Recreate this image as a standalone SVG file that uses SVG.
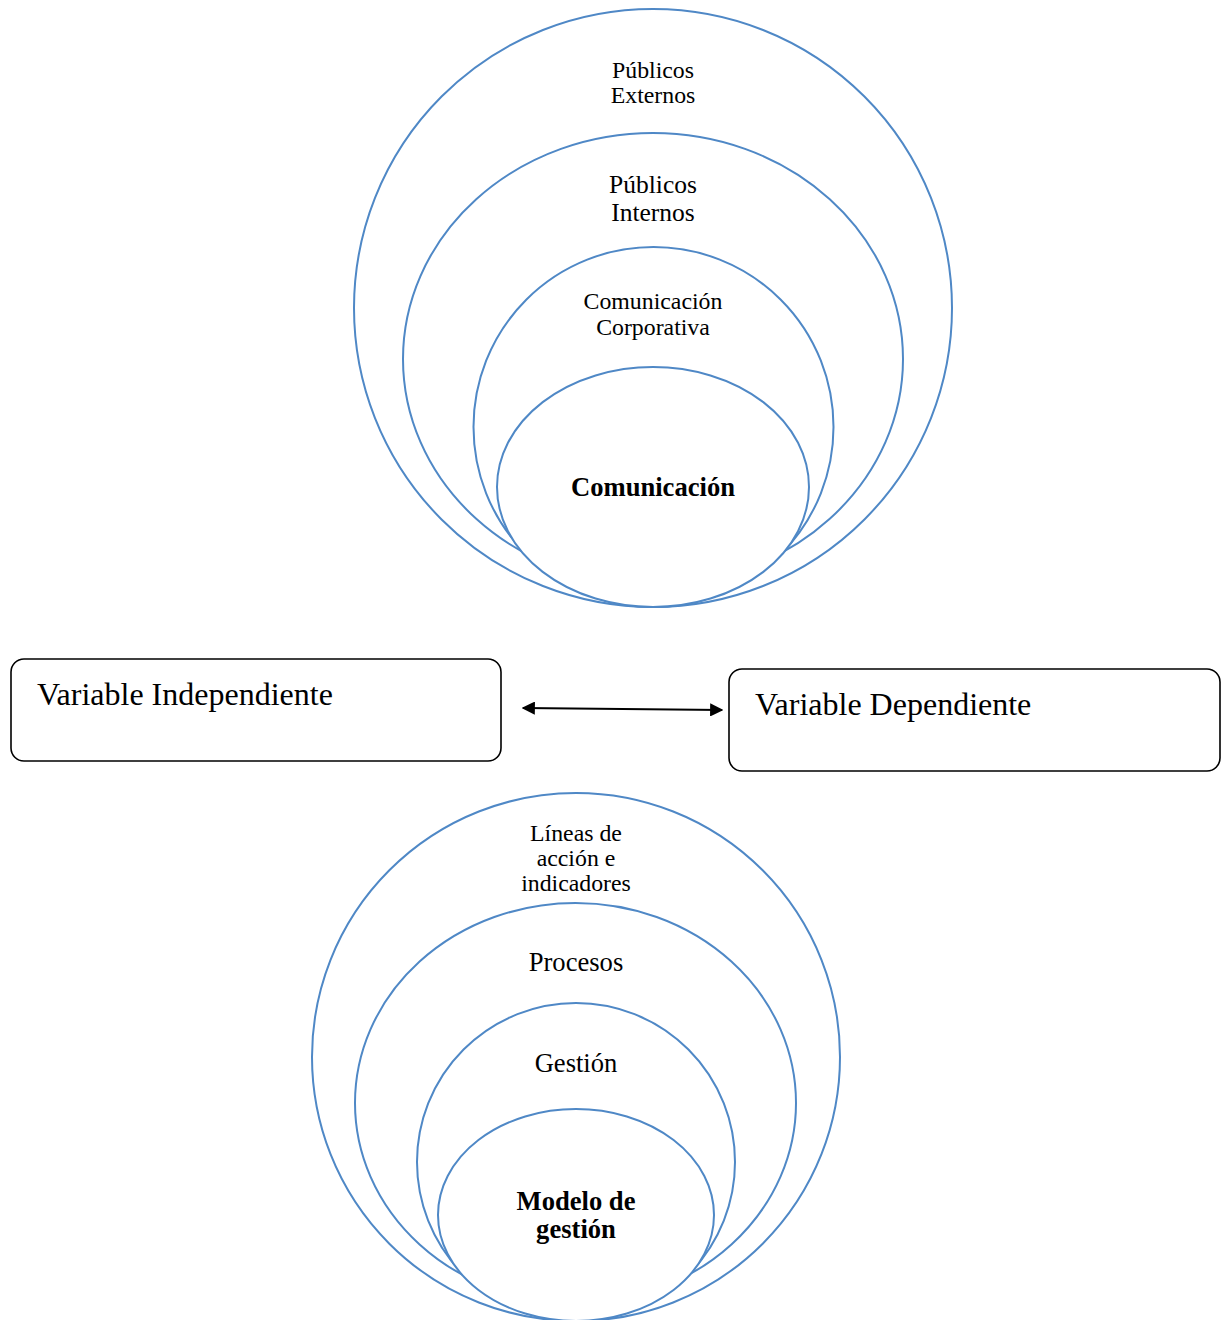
<svg xmlns="http://www.w3.org/2000/svg" width="1221" height="1320" viewBox="0 0 1221 1320">
<defs>
<style>
.ring{fill:#ffffff;stroke:#4F88C6;stroke-width:2}
.t{font-family:"Liberation Serif","Times New Roman",serif;fill:#000;text-anchor:middle}
.s{font-size:23.8px}
.l{font-size:26.6px}
.m{font-size:25.5px}
.box{fill:#ffffff;stroke:#000;stroke-width:1.6}
.bt{font-family:"Liberation Serif","Times New Roman",serif;fill:#000;font-size:32px}
</style>
<marker id="ah" viewBox="0 0 10 10" refX="9" refY="5" markerWidth="6" markerHeight="6" orient="auto-start-reverse">
<path d="M0,0 L10,5 L0,10 z" fill="#000"/>
</marker>
</defs>
<rect width="1221" height="1320" fill="#ffffff"/>

<g id="top-externos">
<ellipse class="ring" cx="653" cy="308" rx="299" ry="299"/>
<text class="t s" x="653" y="78">Públicos</text>
<text class="t s" x="653" y="103">Externos</text>
</g>
<g id="top-internos">
<ellipse class="ring" cx="653" cy="359" rx="250" ry="226"/>
<text class="t m" x="653" y="193">Públicos</text>
<text class="t m" x="653" y="221">Internos</text>
</g>
<g id="top-corporativa">
<ellipse class="ring" cx="653.5" cy="427" rx="180" ry="180"/>
<text class="t s" x="653" y="309">Comunicación</text>
<text class="t s" x="653" y="335">Corporativa</text>
</g>
<g id="top-comunicacion">
<ellipse class="ring" cx="653" cy="487" rx="156" ry="120"/>
<text class="t l" font-weight="bold" x="653" y="496">Comunicación</text>
</g>

<g id="var-independiente">
<rect class="box" x="11" y="659" width="490" height="102" rx="13"/>
<text class="bt" x="37" y="705">Variable Independiente</text>
</g>
<g id="var-dependiente">
<rect class="box" x="729" y="669" width="491" height="102" rx="13"/>
<text class="bt" x="755" y="715">Variable Dependiente</text>
</g>

<g id="connectors">
<line x1="523" y1="708" x2="722" y2="710" stroke="#000" stroke-width="2.2" marker-start="url(#ah)" marker-end="url(#ah)"/>
</g>

<g id="bot-lineas">
<ellipse class="ring" cx="576" cy="1057" rx="264" ry="264"/>
<text class="t s" x="576" y="841">Líneas de</text>
<text class="t s" x="576" y="866">acción e</text>
<text class="t s" x="576" y="891">indicadores</text>
</g>
<g id="bot-procesos">
<ellipse class="ring" cx="575.5" cy="1103" rx="220.5" ry="200"/>
<text class="t l" x="576" y="971">Procesos</text>
</g>
<g id="bot-gestion">
<ellipse class="ring" cx="576" cy="1162" rx="159" ry="159"/>
<text class="t l" x="576" y="1072">Gestión</text>
</g>
<g id="bot-modelo">
<ellipse class="ring" cx="576" cy="1215" rx="138" ry="106"/>
<text class="t l" font-weight="bold" x="576" y="1210">Modelo de</text>
<text class="t l" font-weight="bold" x="576" y="1238">gestión</text>
</g>
</svg>
